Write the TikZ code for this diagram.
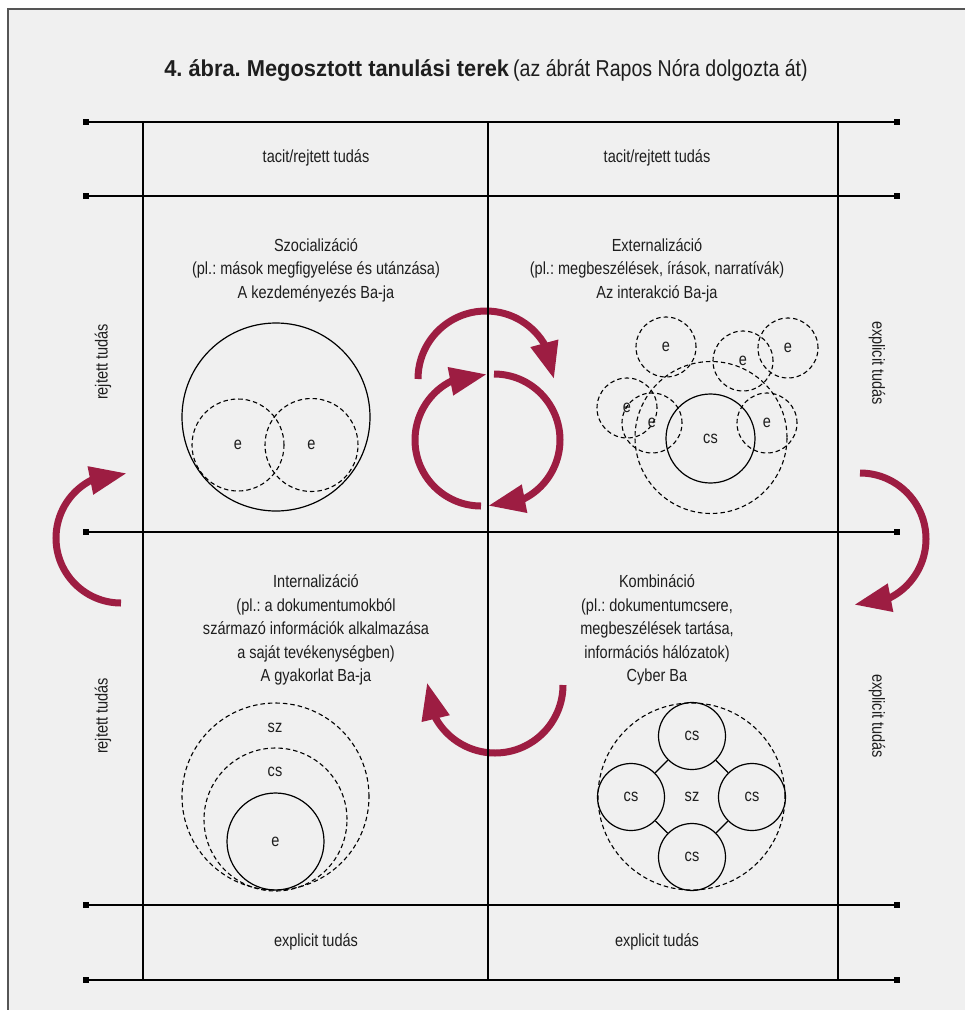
\documentclass[tikz,border=0pt]{standalone}
\usepackage{fontspec}
\setmainfont{Liberation Sans}[FakeStretch=0.83]
\newfontfamily\titleboldfont{Liberation Sans}[FakeStretch=0.95]
\newfontfamily\titleregfont{Liberation Sans}[FakeStretch=0.85]
\usetikzlibrary{arrows.meta,bending}
\definecolor{crim}{RGB}{157,29,66}
\definecolor{bg}{RGB}{240,240,240}
\definecolor{framegray}{RGB}{85,85,85}
\definecolor{txt}{RGB}{30,30,30}
\frenchspacing
\begin{document}
\begin{tikzpicture}[x=1pt,y=-1pt,
  every node/.style={font=\fontsize{17.5}{23.5}\selectfont, text=txt},
  gridline/.style={line width=1.3pt, draw=black},
  marker/.style={fill=black, draw=none, minimum size=6pt, inner sep=0pt, rectangle},
  solidc/.style={circle, draw=black, line width=1.2pt, inner sep=0pt},
  dashc/.style={circle, draw=black, line width=1.1pt, dash pattern=on 4.5pt off 3pt, inner sep=0pt},
  redarrow/.style={draw=crim, line width=7pt, -{Triangle[length=37pt,width=27pt,flex]}},
]
\useasboundingbox (0,0) rectangle (965,1010);
\clip (0,0) rectangle (965,1010);
\fill[white] (0,0) rectangle (965,1010);
\draw[fill=bg, draw=framegray, line width=2pt] (8,9) rectangle (1000,1040);

% title
\node[anchor=base] (title) at (486,76) {{\titleboldfont\fontsize{23}{26}\selectfont\bfseries 4. ábra. Megosztott tanulási terek} {\titleregfont\fontsize{23}{26}\selectfont (az ábrát Rapos Nóra dolgozta át)}};

% red arrows
\coordinate (a1s) at (418,379);
\draw[redarrow] (a1s) arc[start angle=180, end angle=360, radius=68];
\coordinate (a2s) at (481,506);
\draw[redarrow] (a2s) arc[start angle=90, end angle=275, radius=66];
\coordinate (a3s) at (494,374);
\draw[redarrow] (a3s) arc[start angle=270, end angle=455, radius=66];
\coordinate (a4s) at (121,603);
\draw[redarrow] (a4s) arc[start angle=90, end angle=275, radius=65];
\coordinate (a5s) at (860,473);
\draw[redarrow] (a5s) arc[start angle=270, end angle=455, radius=66];
\coordinate (a6s) at (563,685);
\draw[redarrow] (a6s) arc[start angle=0, end angle=182, radius=68];

% grid: horizontal lines with square end markers
\foreach \i/\y in {1/122,2/196,3/532,4/905,5/980}{
  \node[marker] (hl\i) at (86,\y) {};
  \node[marker] (hr\i) at (897,\y) {};
  \draw[gridline] (hl\i) -- (hr\i);
}
% vertical lines
\foreach \i/\x in {1/143,2/488,3/838}{
  \coordinate (vt\i) at (\x,122);
  \coordinate (vb\i) at (\x,980);
  \draw[gridline] (vt\i) -- (vb\i);
}

% header / footer labels
\node (tl1) at (316,158) {tacit/rejtett tudás};
\node (tl2) at (657,158) {tacit/rejtett tudás};
\node (bl1) at (316,942) {explicit tudás};
\node (bl2) at (657,942) {explicit tudás};
\node[rotate=90] (ll1) at (103,362) {rejtett tudás};
\node[rotate=90] (ll2) at (103,716) {rejtett tudás};
\node[rotate=-90] (rl1) at (877,363) {explicit tudás};
\node[rotate=-90] (rl2) at (877,716) {explicit tudás};

% quadrant texts
\node[align=center] (q1) at (316,270) {Szocializáció\\(pl.: mások megfigyelése és utánzása)\\A kezdeményezés Ba-ja};
\node[align=center] (q2) at (657,270) {Externalizáció\\(pl.: megbeszélések, írások, narratívák)\\Az interakció Ba-ja};
\node[align=center] (q3) at (316,630) {Internalizáció\\(pl.: a dokumentumokból\\származó információk alkalmazása\\a saját tevékenységben)\\A gyakorlat Ba-ja};
\node[align=center] (q4) at (657,630) {Kombináció\\(pl.: dokumentumcsere,\\megbeszélések tartása,\\információs hálózatok)\\Cyber Ba};

% TL: socialization
\node[solidc, minimum size=188pt] (s0) at (276,417) {};
\node[dashc, minimum size=92pt] (s1) at (238,445) {e};
\node[dashc, minimum size=93pt] (s2) at (311.5,445) {e};

% TR: externalization
\node[dashc, minimum size=152pt] (x0) at (711,437.5) {};
\node[solidc, minimum size=89pt] (x1) at (710.5,438.5) {cs};
\node[dashc, minimum size=60pt] (x2) at (666,347) {e};
\node[dashc, minimum size=60pt] (x3) at (743,361) {e};
\node[dashc, minimum size=60pt] (x4) at (788,348) {e};
\node[dashc, minimum size=60pt] (x5) at (627,408) {e};
\node[dashc, minimum size=60pt] (x6) at (652,423) {e};
\node[dashc, minimum size=60pt] (x7) at (767,423) {e};

% BL: internalization
\node[dashc, minimum size=187pt] (i0) at (275.5,796.5) {};
\node[dashc, minimum size=143pt] (i1) at (275.5,819.5) {};
\node[solidc, minimum size=97pt] (i2) at (275.5,841.5) {e};
\node (i0l) at (275,728) {sz};
\node (i1l) at (275,772) {cs};

% BR: combination
\node[dashc, minimum size=187pt] (k0) at (691.5,796.5) {};
\node (k0l) at (692,797) {sz};
\node[solidc, minimum size=67pt] (kt) at (692,736) {cs};
\node[solidc, minimum size=67pt] (kl) at (631,797) {cs};
\node[solidc, minimum size=67pt] (kr) at (752,797) {cs};
\node[solidc, minimum size=67pt] (kb) at (692,857) {cs};
\draw[line width=1.2pt] (kt) -- (kl);
\draw[line width=1.2pt] (kt) -- (kr);
\draw[line width=1.2pt] (kb) -- (kl);
\draw[line width=1.2pt] (kb) -- (kr);
\end{tikzpicture}
\end{document}
